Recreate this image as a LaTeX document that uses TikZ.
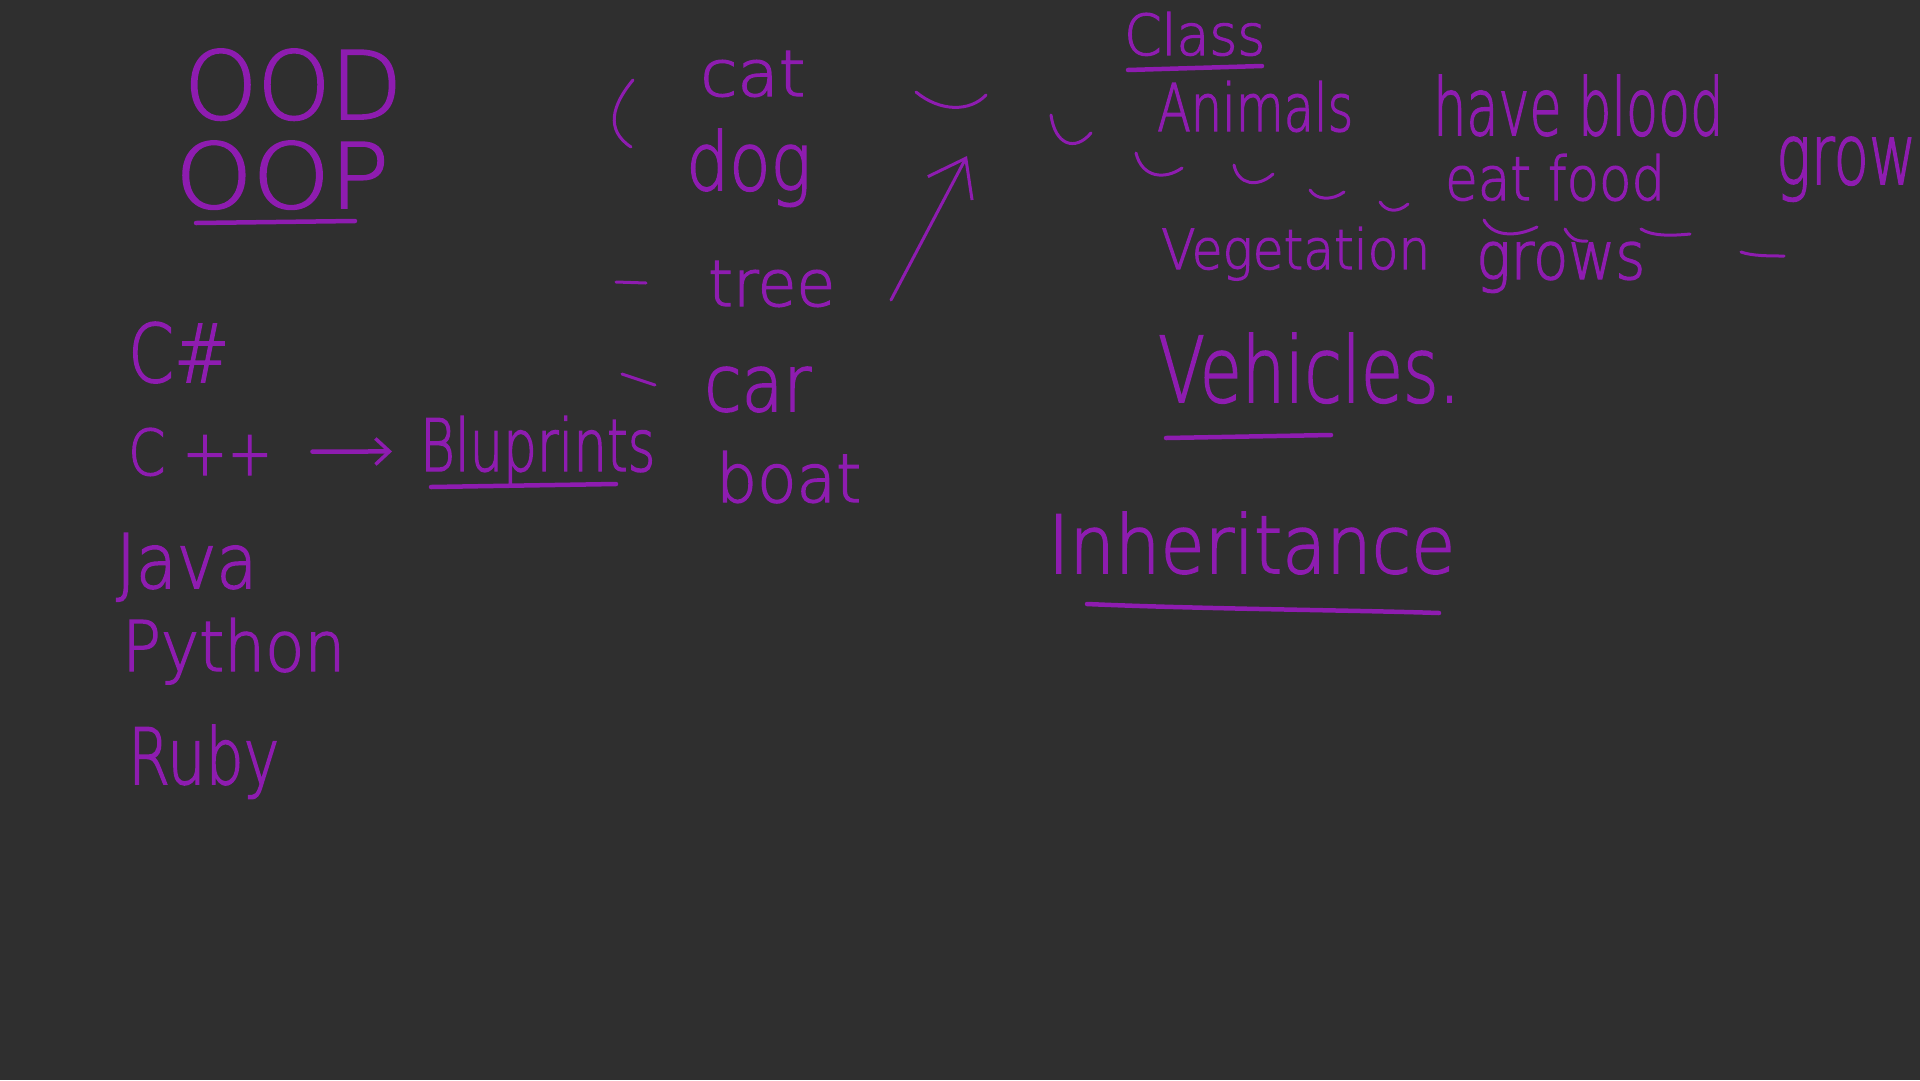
\documentclass[tikz,border=0pt]{standalone}
\usepackage{fontspec}
\newfontfamily\hand[FakeBold=2]{DejaVu Sans ExtraLight}
\usetikzlibrary{arrows.meta}
\definecolor{board}{HTML}{2F2F2F}
\definecolor{ink}{HTML}{8E1CB0}
\newcommand{\hw}[3]{\resizebox{#1pt}{#2pt}{\hand #3}}
\begin{document}
\begin{tikzpicture}[x=1pt,y=-1pt,
  every node/.style={inner sep=0pt, anchor=base west, text=ink},
  stroke/.style={draw=ink, line width=4.5pt, line cap=round, line join=round},
  flick/.style={draw=ink, line width=3pt, line cap=round, line join=round},
  tipped/.style={stroke, -{Straight Barb[length=14pt,width=26pt,line width=3.5pt]}}]
\fill[board] (0,0) rectangle (1920,1080);
\useasboundingbox (0,0) rectangle (1920,1080);
\clip (0,0) rectangle (1920,1080);
% left column
\node (ood) at (184,119) {\hw{218}{70}{OOD}};
\node (oop) at (175,208) {\hw{214}{67}{OOP}};
\draw[stroke] (196,223) -- (355,221);
\node (csharp) at (128,382) {\hw{101}{60}{C\#}};
\node (cpp) at (128,475) {\hw{144}{47}{C ++}};
\node (blu) at (420,471) {\hw{235}{55}{Bluprints}};
\draw[stroke] (431,487) -- (616,484);
\draw[tipped, shorten <=40pt, shorten >=28pt] (cpp) -- (blu);
\node (java) at (116,588) {\hw{141}{55}{Java}};
\node (python) at (122,671) {\hw{223}{53}{Python}};
\node (ruby) at (128,784) {\hw{151}{59}{Ruby}};
% middle column
\node (cat) at (700,96) {\hw{105}{45}{cat}};
\node (dog) at (686,190) {\hw{125}{61}{dog}};
\node (tree) at (708,306) {\hw{127}{45}{tree}};
\node (car) at (704,411) {\hw{107}{44}{car}};
\node (boat) at (716,502) {\hw{145}{51}{boat}};
\draw[flick] (633,80) .. controls (612,105) and (605,130) .. (631,147);
\draw[flick] (616,282) -- (646,283);
\draw[flick] (622,374) -- (655,385);
\coordinate (ta) at (891,300);
\coordinate (tb) at (967,156);
\draw[flick, -{Straight Barb[length=34pt,width=50pt,line width=3pt]}] (ta) -- (tb);
\draw[flick] (916,92) .. controls (940,112) and (970,112) .. (986,95);
% right column
\node (class) at (1124,55) {\hw{141}{43}{Class}};
\draw[stroke] (1128,70) -- (1262,66);
\draw[flick] (1051,115) .. controls (1055,145) and (1075,152) .. (1091,133);
\node (animals) at (1157,131) {\hw{196}{50}{Animals}};
\node (blood) at (1433,135) {\hw{290}{60}{have blood}};
\node (food) at (1445,200) {\hw{220}{46}{eat food}};
\node (grow) at (1776,184) {\hw{140}{47}{grow}};
\draw[flick] (1136,153) .. controls (1142,178) and (1165,180) .. (1182,168);
\draw[flick] (1234,165) .. controls (1238,185) and (1258,188) .. (1273,174);
\draw[flick] (1310,190) .. controls (1316,200) and (1332,201) .. (1344,192);
\draw[flick] (1380,202) .. controls (1386,212) and (1398,213) .. (1408,204);
\node (veg) at (1161,269) {\hw{269}{42}{Vegetation}};
\node (grows) at (1476,279) {\hw{169}{37}{grows}};
\draw[flick] (1484,220) .. controls (1492,236) and (1515,238) .. (1537,227);
\draw[flick] (1565,229) .. controls (1570,238) and (1576,242) .. (1587,241);
\draw[flick] (1641,229) .. controls (1652,236) and (1670,236) .. (1690,234);
\draw[flick] (1741,252) .. controls (1752,256) and (1770,256) .. (1784,256);
\node (vehicles) at (1158,402) {\hw{302}{69}{Vehicles.}};
\draw[stroke] (1166,438) -- (1331,435);
\node (inherit) at (1048,573) {\hw{407}{61}{Inheritance}};
\draw[stroke] (1087,604) .. controls (1200,609) and (1350,610) .. (1439,613);
\end{tikzpicture}
\end{document}
